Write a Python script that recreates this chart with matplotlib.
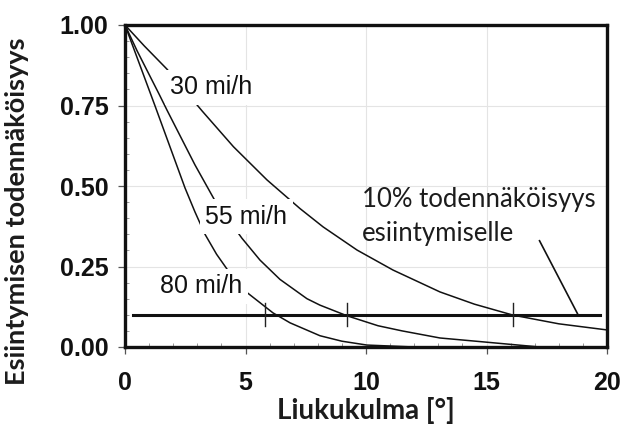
import matplotlib
matplotlib.use('Agg')
import matplotlib.pyplot as plt
from matplotlib.ticker import MultipleLocator, FormatStrFormatter

# luettu kuvasta: liukukulma [deg] vs todennäköisyys
x_30 = [0, 0.8, 1.74, 3.2, 4.5, 5.89, 7.26, 8.22, 9.63, 11.12, 13.07, 14.5, 16.1, 18.0, 20.0]
y_30 = [1.0, 0.935, 0.863, 0.733, 0.622, 0.519, 0.430, 0.373, 0.301, 0.239, 0.171, 0.133, 0.099, 0.072, 0.053]

x_55 = [0, 0.5, 1.41, 1.74, 2.9, 3.75, 4.85, 5.6, 6.43, 7.55, 8.09, 9.21, 10.5, 11.5, 13.07, 14.85, 17.2, 20]
y_55 = [1.0, 0.92, 0.786, 0.736, 0.566, 0.452, 0.338, 0.27, 0.21, 0.150, 0.130, 0.097, 0.066, 0.050, 0.028, 0.016, 0.0, 0.0]

x_80 = [0, 1.24, 2.49, 2.9, 3.32, 3.8, 4.27, 4.98, 6.14, 6.85, 8.09, 9.0, 10.04, 12.0]
y_80 = [1.0, 0.75, 0.494, 0.42, 0.35, 0.288, 0.238, 0.174, 0.106, 0.075, 0.035, 0.018, 0.006, 0.0]

speeds = ['30 mi/h', '55 mi/h', '80 mi/h']
label_pos = [(1.87, 0.807), (3.32, 0.404), (1.45, 0.189)]

raja = 0.1                      # 10 % taso
raja_x = [0.33, 19.7]
raja_ticks = [5.8, 9.2, 16.1]   # leikkauskohdat
tick_h = 0.036
leader_x = [17.2, 18.8]
leader_y = [0.33, 0.1]

TXT = '#1c1c1c'

fig = plt.figure(figsize=(6.26, 4.34), dpi=100)
ax = fig.add_axes([125/626, 87/434, 482/626, 322/434])

for xs, ys in [(x_30, y_30), (x_55, y_55), (x_80, y_80)]:
    ax.plot(xs, ys, color='#111111', lw=1.1, zorder=3)

for name, (lx, ly) in zip(speeds, label_pos):
    ax.text(lx, ly, name, ha='left', va='center', fontsize=18,
            family='Liberation Sans', color='#111111', zorder=5,
            bbox=dict(boxstyle='square,pad=0.22', fc='white', ec='none'))

# 10 % viiva ja pystymerkit
ax.plot(raja_x, [raja, raja], color='#111111', lw=2.2, zorder=4)
for t in raja_ticks:
    ax.plot([t, t], [raja - tick_h, raja + tick_h], color='#222222', lw=1.0, zorder=4)
ax.plot(leader_x, leader_y, color='#111111', lw=1.2, zorder=4)

ax.text(9.83, 0.457, '10% todennäköisyys', ha='left', va='center', fontsize=18.5,
        family='Lato', color=TXT, zorder=5)
ax.text(9.83, 0.351, 'esiintymiselle', ha='left', va='center', fontsize=18.5,
        family='Lato', color=TXT, zorder=5)

ax.set_xlim(0, 20)
ax.set_ylim(0, 1)
ax.xaxis.set_major_locator(MultipleLocator(5))
ax.xaxis.set_minor_locator(MultipleLocator(1))
ax.yaxis.set_major_locator(MultipleLocator(0.25))
ax.yaxis.set_minor_locator(MultipleLocator(0.05))
ax.yaxis.set_major_formatter(FormatStrFormatter('%.2f'))
ax.grid(True, which='major', color='#e4e4e4', lw=0.8, zorder=0)
ax.set_axisbelow(True)

ax.tick_params(which='major', direction='out', length=5, width=0.9, color='#555555')
ax.tick_params(axis='x', which='major', pad=12)
ax.tick_params(axis='y', which='major', pad=7)
ax.tick_params(which='minor', direction='in', length=3, width=0.7, color='#999999')
for lab in ax.get_xticklabels() + ax.get_yticklabels():
    lab.set_family('Liberation Sans')
    lab.set_fontweight('bold')
    lab.set_fontsize(18)
    lab.set_color('#111111')

for s in ax.spines.values():
    s.set_linewidth(2.4)
    s.set_color('#111111')

ax.set_xlabel('Liukukulma [°]', fontsize=20, family='Lato', fontweight='bold',
              color=TXT, va='center')
ax.xaxis.set_label_coords(0.5, -0.196)
ax.set_ylabel('Esiintymisen todennäköisyys', fontsize=19.5, family='Lato',
              fontweight='bold', color=TXT, va='center')
ax.yaxis.set_label_coords(-0.224, 0.422)

fig.savefig('out.png', dpi=100)
